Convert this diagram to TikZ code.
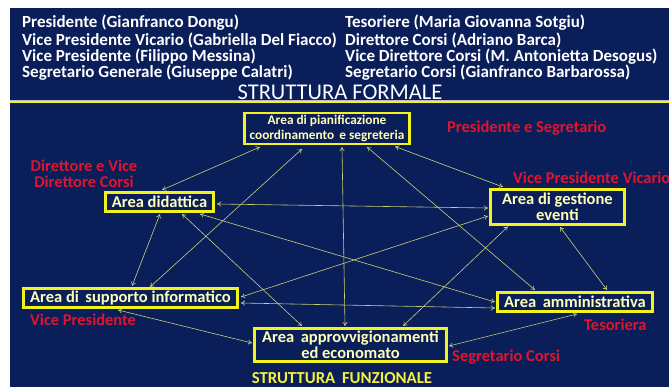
\documentclass[tikz,border=0pt]{standalone}
\usepackage{fontspec}
\setmainfont{Carlito}
\usetikzlibrary{arrows.meta}
\definecolor{navy}{HTML}{0A1E5A}
\definecolor{boxyel}{HTML}{F2F21E}
\definecolor{boxtxt}{HTML}{FFFFB8}
\definecolor{lblred}{HTML}{E0142D}
\definecolor{edgecol}{HTML}{C9CF7A}
\definecolor{titleyel}{HTML}{F5F03C}
\tikzset{
  area/.style={draw=boxyel, line width=2.6pt, fill=navy, text=boxtxt, font=\bfseries\fontsize{16.5}{15.5}\selectfont, inner sep=0pt, align=center},
  hdr/.style={anchor=west, text=white, font=\bfseries\fontsize{17}{19}\selectfont, inner sep=0pt},
  role/.style={text=lblred, font=\bfseries\fontsize{16.5}{16}\selectfont, inner sep=0pt, align=center},
  link/.style={draw=edgecol, line width=0.6pt, {To[length=4pt,width=5pt]}-{To[length=4pt,width=5pt]}},
}
\begin{document}
\begin{tikzpicture}[x=1pt,y=-1pt]
\useasboundingbox (0,0) rectangle (669,387);
\fill[white] (0,0) rectangle (669,387);
\fill[navy] (10,8) rectangle (669,387);
% header
\node[hdr] (h1) at (22,23) {Presidente (Gianfranco Dongu)};
\node[hdr] (h2) at (22,40) {Vice Presidente Vicario (Gabriella Del Fiacco)};
\node[hdr] (h3) at (22,57) {Vice Presidente (Filippo Messina)};
\node[hdr] (h4) at (22,73) {Segretario Generale (Giuseppe Calatri)};
\node[hdr] (h5) at (345,23) {Tesoriere (Maria Giovanna Sotgiu)};
\node[hdr] (h6) at (345,40) {Direttore Corsi (Adriano Barca)};
\node[hdr] (h7) at (345,57) {Vice Direttore Corsi (M. Antonietta Desogus)};
\node[hdr] (h8) at (345,73) {Segretario Corsi (Gianfranco Barbarossa)};
\node[text=white, font=\fontsize{22.5}{24}\selectfont, inner sep=0pt] (sf) at (340,92) {STRUTTURA FORMALE};
\draw[white!70!navy, line width=0.8pt] (10,100.5) -- (669,100.5);
\draw[boxyel, line width=2pt] (10,102.5) -- (669,102.5);
% nodes
\node[area, font=\bfseries\fontsize{13.3}{14.5}\selectfont, minimum width=165pt, minimum height=31pt] (P) at (327,128.5) {Area di pianificazione\\coordinamento\, e segreteria};
\node[area, minimum width=108pt, minimum height=19pt] (D) at (159.5,202) {Area didattica};
\node[area, minimum width=134pt, minimum height=35pt] (G) at (557.5,207) {Area di gestione\\eventi};
\node[area, minimum width=214pt, minimum height=19pt] (S) at (130.5,298) {Area di\, supporto informatico};
\node[area, minimum width=155pt, minimum height=19pt] (Am) at (575,302) {Area\, amministrativa};
\node[area, minimum width=192pt, minimum height=33pt] (Ap) at (350.5,345) {Area\, approvvigionamenti\\ed economato};
% roles
\node[role, anchor=west] (r1) at (447,128) {Presidente e Segretario};
\node[role] (r2) at (84,174) {Direttore e Vice\\Direttore Corsi};
\node[role, anchor=west] (r3) at (513,178) {Vice Presidente Vicario};
\node[role, anchor=west] (r4) at (30,320) {Vice Presidente};
\node[role, anchor=west] (r5) at (584,325) {Tesoriera};
\node[role, anchor=west] (r6) at (452,357) {Segretario Corsi};
\node[text=titleyel, font=\bfseries\fontsize{16.8}{18}\selectfont, inner sep=0pt] (sfun) at (342,378.5) {STRUTTURA\, FUNZIONALE};
% links
\draw[link] ([shift={(-67,18.5)}]P.center) -- ([shift={(2.5,-12)}]D.center);
\draw[link] ([shift={(-25,20.5)}]P.center) -- ([shift={(19.5,-11)}]S.center);
\draw[link] ([shift={(15,18.5)}]P.center) -- ([shift={(-5.5,-19)}]Ap.center);
\draw[link] ([shift={(40,18.5)}]P.center) -- ([shift={(-40,-12)}]Am.center);
\draw[link] ([shift={(68,18)}]P.center) -- ([shift={(-54.5,-20)}]G.center);
\draw[link] ([shift={(57.5,2)}]D.center) -- ([shift={(-69.5,1)}]G.center);
\draw[link] ([shift={(0.5,12)}]D.center) -- ([shift={(1.5,-12)}]S.center);
\draw[link] ([shift={(22.5,12)}]D.center) -- ([shift={(-48.5,-19)}]Ap.center);
\draw[link] ([shift={(40.5,12)}]D.center) -- ([shift={(-80,0)}]Am.center);
\draw[link] ([shift={(110.5,-1)}]S.center) -- ([shift={(-69.5,9)}]G.center);
\draw[link] ([shift={(110.5,5)}]S.center) -- ([shift={(-80,6)}]Am.center);
\draw[link] ([shift={(-12.5,12)}]S.center) -- ([shift={(-98.5,-2)}]Ap.center);
\draw[link] ([shift={(-49.5,19.5)}]G.center) -- ([shift={(52.5,-19)}]Ap.center);
\draw[link] ([shift={(2.5,20)}]G.center) -- ([shift={(32,-12)}]Am.center);
\draw[link] ([shift={(2,12)}]Am.center) -- ([shift={(98.5,1)}]Ap.center);
\end{tikzpicture}
\end{document}
